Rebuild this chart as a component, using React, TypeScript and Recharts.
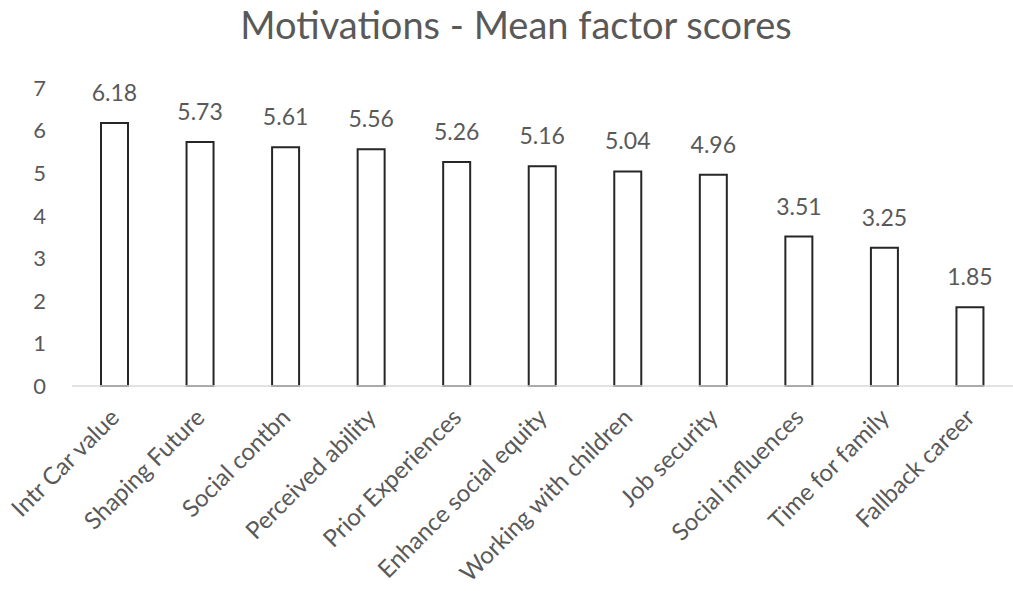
import React from "react"
import { BarChart, Bar, XAxis, YAxis, LabelList } from "recharts"

const categories = [
  "Intr Car value",
  "Shaping Future",
  "Social contbn",
  "Perceived ability",
  "Prior Experiences",
  "Enhance social equity",
  "Working with children",
  "Job security",
  "Social influences",
  "Time for family",
  "Fallback career",
]

const meanScores = [6.18, 5.73, 5.61, 5.56, 5.26, 5.16, 5.04, 4.96, 3.51, 3.25, 1.85]

const yTicks = [0, 1, 2, 3, 4, 5, 6, 7]

const chartTitle = "Motivations - Mean factor scores"

const FONT = "Lato, 'Noto Sans', sans-serif"
const TEXT = "#595959"

function AngledTick({ x, y, payload }: any) {
  return (
    <text
      transform={`translate(${x + 6},${y + 33}) rotate(-45)`}
      textAnchor="end"
      fill={TEXT}
      fontFamily={FONT}
      fontSize={24}
    >
      {payload.value}
    </text>
  )
}

export default function App() {
  const data = categories.map((name, i) => ({ name, score: meanScores[i] }))

  return (
    <div style={{ position: "absolute", left: 0, top: 0, width: 1013, height: 591, background: "#fff" }}>
      <BarChart
        width={1013}
        height={591}
        data={data}
        margin={{ top: 88, right: 0, bottom: 0, left: 0 }}
      >
        <XAxis
          dataKey="name"
          interval={0}
          height={205}
          tickLine={false}
          tickSize={0}
          tickMargin={0}
          axisLine={{ stroke: "#d9d9d9", strokeWidth: 1.5 }}
          tick={<AngledTick />}
        />
        <YAxis
          width={72}
          domain={[0, 7]}
          ticks={yTicks}
          axisLine={false}
          tickLine={false}
          tickSize={0}
          tickMargin={26}
          tick={{ fill: TEXT, fontFamily: FONT, fontSize: 22 }}
        />
        <Bar
          dataKey="score"
          fill="#ffffff"
          stroke="#262626"
          strokeWidth={2}
          barSize={27}
          isAnimationActive={false}
        >
          <LabelList
            dataKey="score"
            position="top"
            offset={22}
            fill={TEXT}
            fontFamily={FONT}
            fontSize={23}
          />
        </Bar>
      </BarChart>
      <svg
        width={1013}
        height={60}
        style={{ position: "absolute", left: 0, top: 0, pointerEvents: "none" }}
      >
        <text x={516} y={39} textAnchor="middle" fill={TEXT} fontFamily={FONT} fontSize={38}>
          {chartTitle}
        </text>
      </svg>
    </div>
  )
}
